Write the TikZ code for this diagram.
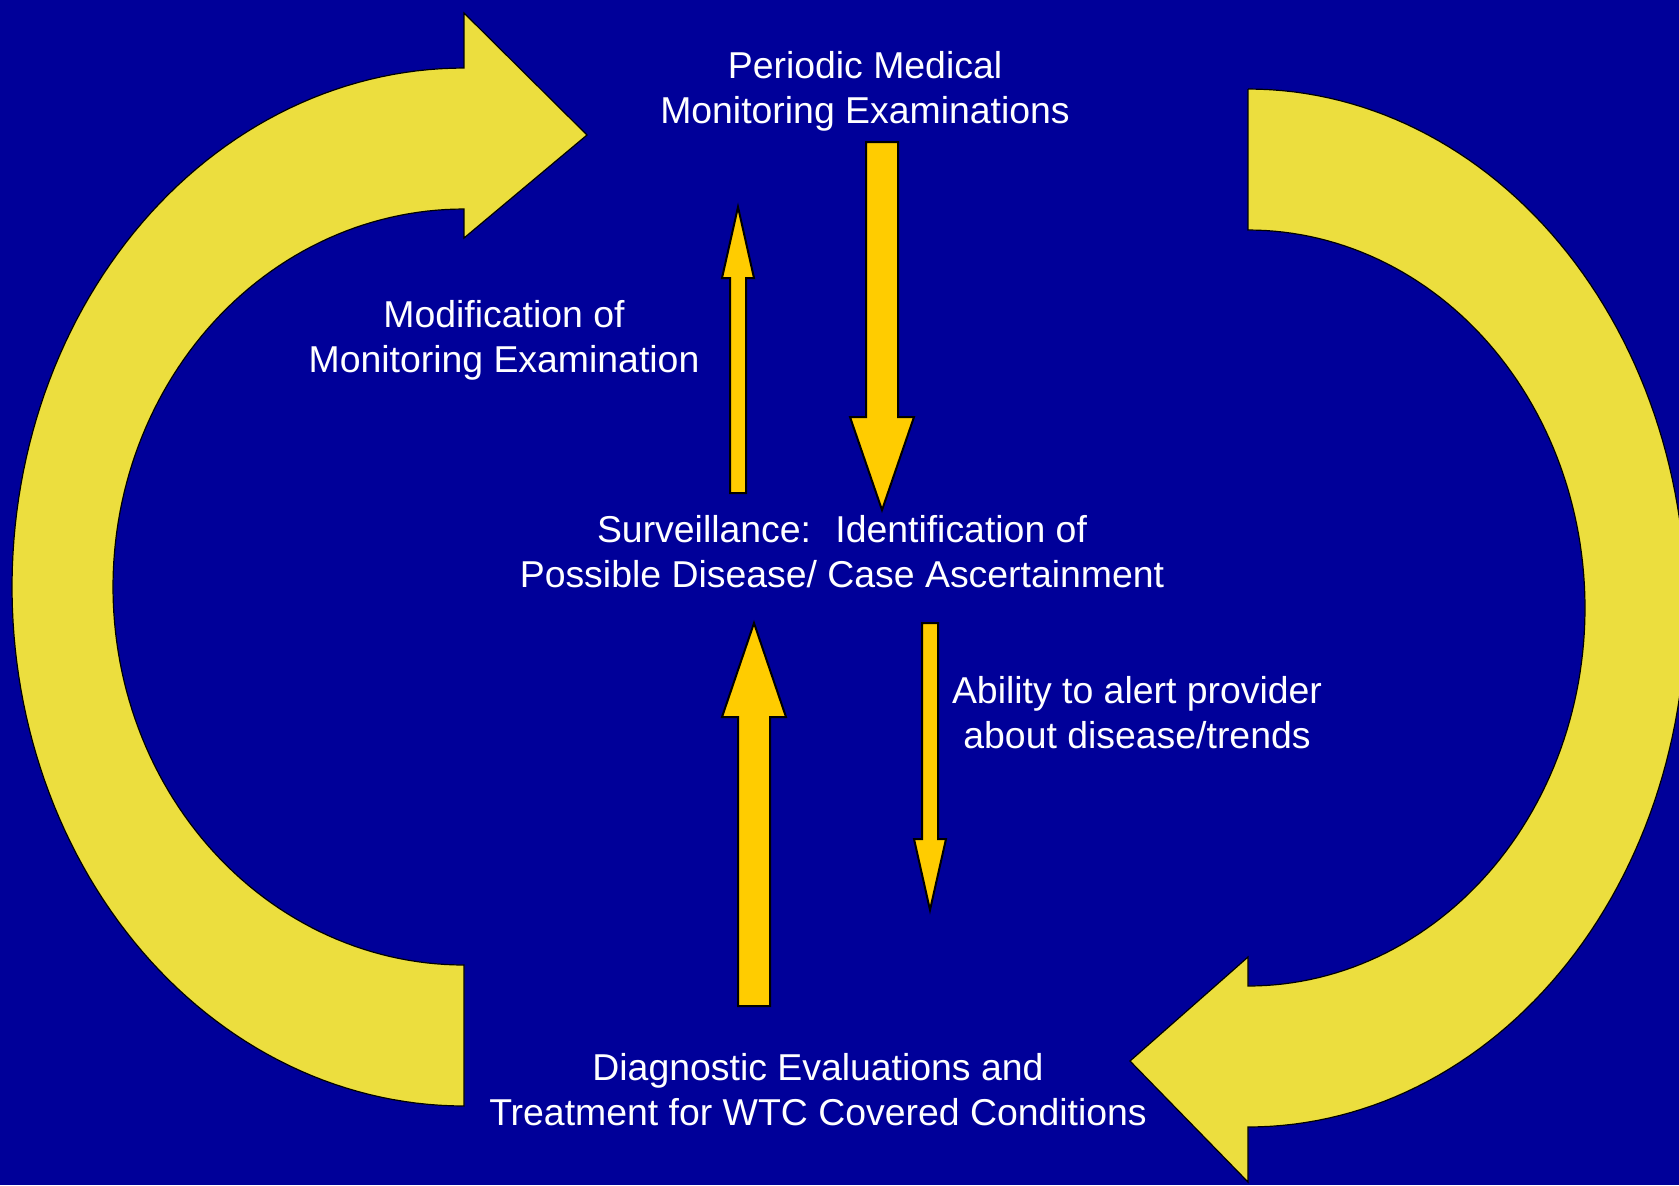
\documentclass[tikz,border=0pt]{standalone}
\usepackage{fontspec}
\setmainfont{Liberation Sans}
\usetikzlibrary{calc}
\definecolor{bgblue}{RGB}{0,0,153}
\definecolor{arrowyellow}{RGB}{236,222,62}
\definecolor{arroworange}{RGB}{255,204,0}
\newcommand\blockarrow[5]{% #1 tail, #2 tip, #3 shaft half width, #4 head half width, #5 head length
  \coordinate (ba-base) at ($(#2)!#5!(#1)$);
  \draw[blockarrowstyle]
    ($(#1)!#3!90:(#2)$) -- ($(ba-base)!#3!90:(#2)$) -- ($(ba-base)!#4!90:(#2)$)
    -- (#2)
    -- ($(ba-base)!#4!-90:(#2)$) -- ($(ba-base)!#3!-90:(#2)$) -- ($(#1)!#3!-90:(#2)$) -- cycle;
}
\begin{document}
\begin{tikzpicture}[x=0.5pt,y=-0.5pt,
  bigarrow/.style={fill=arrowyellow, draw=black, line width=0.6pt, line join=miter},
  blockarrowstyle/.style={fill=arroworange, draw=black, line width=1pt, line join=miter},
  label/.style={text=white, align=center, inner sep=0pt,
    font=\fontsize{18.7}{22.5}\selectfont, anchor=base}]
\useasboundingbox (0,0) rectangle (1679,1185);
\clip (0,0) rectangle (1679,1185);
\fill[bgblue] (0,0) rectangle (1679,1185);

% left curved arrow (up and round to the top, pointing right)
\draw[bigarrow] (464,13) -- (587,135) -- (464,238) -- (464,209)
  -- plot[domain=-90:-270, samples=120] ({464+351*cos(\x)}, {587+378*sin(\x)})
  -- (464,1106)
  -- plot[domain=90:270, samples=120] ({464+452*cos(\x)}, {587+519*sin(\x)})
  -- cycle;

% right curved arrow (down and round to the bottom, pointing left)
\draw[bigarrow] (1248,89) -- (1248,230)
  -- plot[domain=-90:90, samples=120] ({1248+337*cos(\x)}, {608+378*sin(\x)})
  -- (1248,957) -- (1130,1061) -- (1248,1182) -- (1248,1127)
  -- plot[domain=90:-90, samples=120] ({1248+438*cos(\x)}, {608+519*sin(\x)})
  -- cycle;

% texts (anchor base = baseline of the last line)
\node[label] (periodic) at (865,123) {Periodic Medical\\Monitoring Examinations};
\node[label] (modif) at (504,372) {Modification of\\Monitoring Examination};
\node[label] (surv) at (842,587) {Surveillance:~ Identification of\\Possible Disease/ Case Ascertainment};
\node[label] (ability) at (1137,748) {Ability to alert provider\\about disease/trends};
\node[label] (diag) at (818,1125) {Diagnostic Evaluations and\\Treatment for WTC Covered Conditions};

% straight block arrows
\coordinate (a1tail) at (882,142);  \coordinate (a1tip) at (882,510);
\coordinate (a2tail) at (738,493);  \coordinate (a2tip) at (738,207);
\coordinate (a3tail) at (754,1006); \coordinate (a3tip) at (754,623);
\coordinate (a4tail) at (930,623);  \coordinate (a4tip) at (930,910);
\blockarrow{a1tail}{a1tip}{8pt}{16pt}{46.5pt}
\blockarrow{a2tail}{a2tip}{4pt}{8pt}{35.5pt}
\blockarrow{a3tail}{a3tip}{8pt}{16pt}{47pt}
\blockarrow{a4tail}{a4tip}{4pt}{8pt}{35.5pt}
\end{tikzpicture}
\end{document}
